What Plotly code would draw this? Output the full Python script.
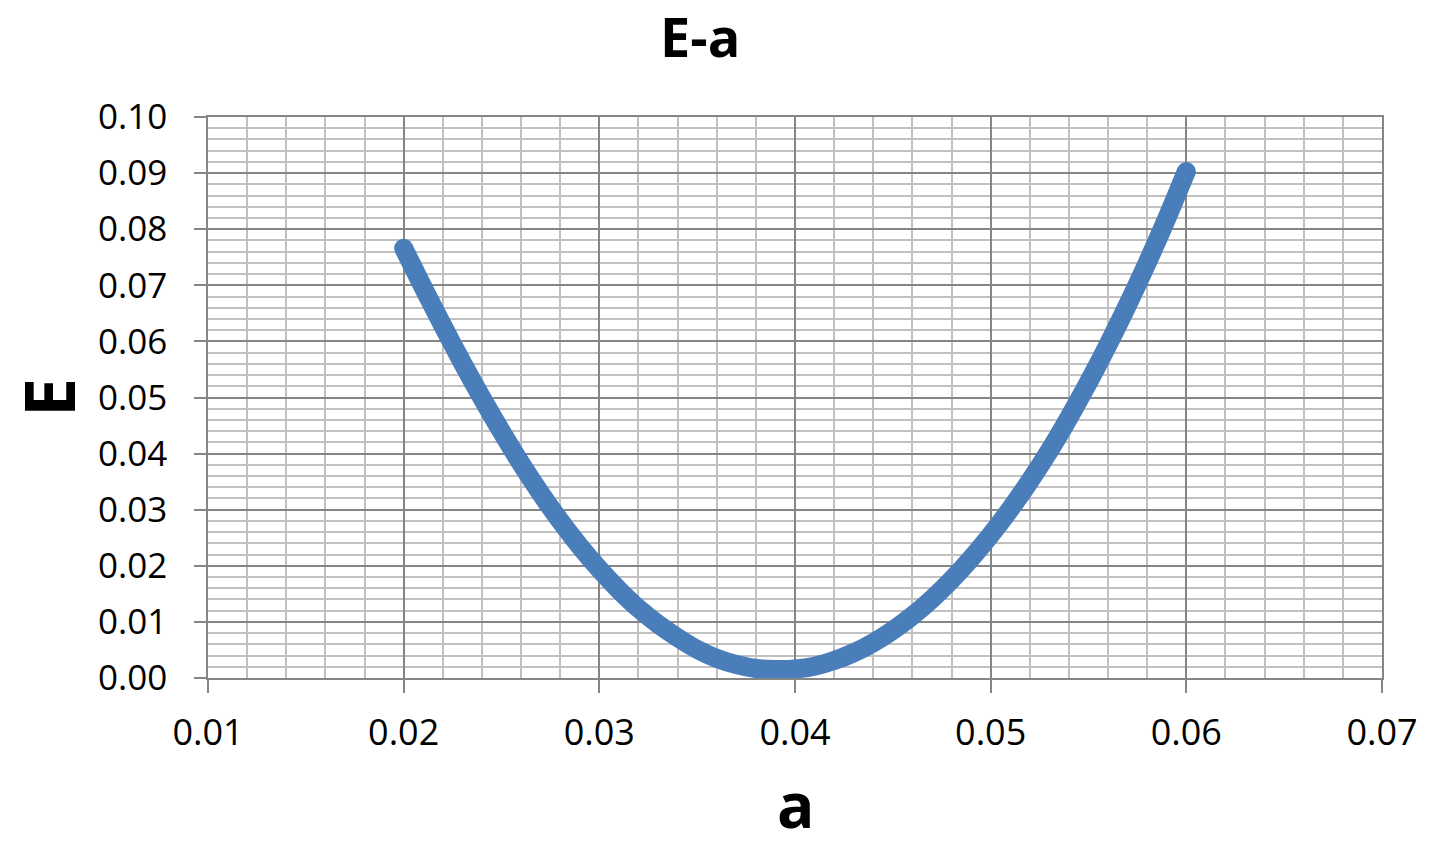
import plotly.graph_objects as go

# Data
a_vals = [0.020, 0.021, 0.022, 0.023, 0.024, 0.025, 0.026, 0.027, 0.028, 0.029,
          0.030, 0.031, 0.032, 0.033, 0.034, 0.035, 0.036, 0.037, 0.038, 0.039,
          0.040, 0.041, 0.042, 0.043, 0.044, 0.045, 0.046, 0.047, 0.048, 0.049,
          0.050, 0.051, 0.052, 0.053, 0.054, 0.055, 0.056, 0.057, 0.058, 0.059,
          0.060]
E_vals = [0.0766, 0.0696, 0.0628, 0.0562, 0.0499, 0.0439, 0.0382, 0.0329, 0.0280, 0.0235,
          0.0194, 0.0157, 0.0124, 0.0096, 0.0072, 0.0051, 0.0035, 0.0024, 0.0017, 0.0015,
          0.0016, 0.0021, 0.0031, 0.0045, 0.0063, 0.0085, 0.0111, 0.0141, 0.0175, 0.0213,
          0.0255, 0.0301, 0.0351, 0.0405, 0.0464, 0.0527, 0.0594, 0.0665, 0.0740, 0.0819,
          0.0903]

title_text = "E-a"
x_title = "a"
y_title = "E"

LINE_COLOR = "#4A7EBB"
MAJOR = "#868686"
MINOR = "#C0C0C0"
FONT = "Open Sans"

fig = go.Figure()
fig.add_trace(go.Scatter(x=a_vals, y=E_vals, mode="lines",
                         line=dict(color=LINE_COLOR, width=19, shape="spline", smoothing=0.8),
                         showlegend=False, hoverinfo="skip"))
# round end caps
fig.add_trace(go.Scatter(x=[a_vals[0], a_vals[-1]], y=[E_vals[0], E_vals[-1]],
                         mode="markers",
                         marker=dict(color=LINE_COLOR, size=19, line=dict(width=0)),
                         showlegend=False, hoverinfo="skip"))

fig.update_layout(
    width=1429, height=850,
    margin=dict(l=208, r=47, t=117, b=172),
    paper_bgcolor="white", plot_bgcolor="white",
    font=dict(family=FONT, color="black"),
    title=dict(text=title_text, x=0.49, xanchor="center", y=0.955, yanchor="middle",
               font=dict(family=FONT, size=54, color="black", weight="bold")),
)

fig.add_annotation(text=x_title, xref="paper", yref="paper", x=0.5, y=-0.224,
                   xanchor="center", yanchor="middle", showarrow=False,
                   font=dict(family=FONT, size=62, color="black", weight="bold"))

fig.update_xaxes(
    range=[0.01, 0.07], dtick=0.01, tick0=0.01, tickformat=".2f",
    showgrid=True, gridcolor=MAJOR, gridwidth=1.5,
    showline=True, linecolor=MAJOR, linewidth=1.5, mirror=True,
    ticks="outside", ticklen=13, tickcolor=MAJOR, tickwidth=1.5,
    tickfont=dict(family=FONT, size=36, color="black"),
    ticklabelstandoff=9,
    zeroline=False, automargin=False,
    minor=dict(dtick=0.002, showgrid=True, gridcolor=MINOR, gridwidth=1.5, ticks=""),
)
fig.update_yaxes(
    range=[0, 0.10], dtick=0.01, tick0=0, tickformat=".2f",
    showgrid=True, gridcolor=MAJOR, gridwidth=1.5,
    showline=True, linecolor=MAJOR, linewidth=1.5, mirror=True,
    ticks="outside", ticklen=12, tickcolor=MAJOR, tickwidth=1.5,
    tickfont=dict(family=FONT, size=35, color="black"),
    ticklabelstandoff=20,
    zeroline=False,
    minor=dict(dtick=0.002, showgrid=True, gridcolor=MINOR, gridwidth=1.5, ticks=""),
    title=dict(text=y_title, font=dict(family=FONT, size=70, color="black", weight="bold"),
               standoff=30),
)

fig.write_html("out.html")
